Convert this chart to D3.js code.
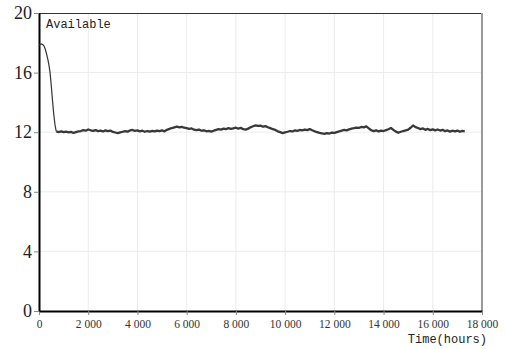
<!DOCTYPE html>
<html>
<head>
<meta charset="utf-8">
<script src="https://cdn.jsdelivr.net/npm/d3@7"></script>
<style>
  html, body { margin: 0; padding: 0; background: #fff; }
  svg { display: block; }
</style>
</head>
<body>
<figure id="chart" style="margin:0"></figure>
<script>
// start-up: stock falls from 18 to about 12
const rampHours = [0, 50, 100, 150, 200, 250, 300, 350, 400, 450, 500, 550, 600, 650, 700]
const rampValues = [17.85, 17.9, 17.92, 17.88, 17.8, 17.6, 17.3, 16.95, 16.55, 16.0, 15.1, 14.1, 13.2, 12.5, 12.05]

// steady state, sampled every 100 h from 700 h
const plateauStart = 700
const plateauStep = 100
const plateauValues = [
  12.05, 12.01, 12.06, 12.00, 12.04, 11.99, 12.02, 11.95, 12.00, 12.05,
  12.08, 12.14, 12.10, 12.18, 12.13, 12.09, 12.14, 12.07, 12.10, 12.05,
  12.12, 12.08, 12.11, 12.02, 11.98, 11.94, 11.99, 12.03, 12.07, 12.04,
  12.12, 12.15, 12.09, 12.12, 12.06, 12.10, 12.03, 12.08, 12.04, 12.09,
  12.05, 12.11, 12.07, 12.12, 12.06, 12.16, 12.22, 12.28, 12.33, 12.38,
  12.32, 12.36, 12.30, 12.27, 12.22, 12.25, 12.17, 12.14, 12.18, 12.10,
  12.13, 12.06, 12.09, 12.04, 12.10, 12.15, 12.20, 12.17, 12.24, 12.21,
  12.27, 12.22, 12.26, 12.30, 12.24, 12.29, 12.20, 12.17, 12.24, 12.33,
  12.40, 12.46, 12.42, 12.44, 12.37, 12.41, 12.33, 12.27, 12.20, 12.15,
  12.06, 12.00, 11.94, 11.99, 12.03, 12.08, 12.05, 12.12, 12.09, 12.15,
  12.12, 12.18, 12.14, 12.21, 12.13, 12.06, 12.01, 11.96, 11.92, 11.89,
  11.94, 11.91, 11.97, 11.95, 12.01, 12.06, 12.10, 12.15, 12.12, 12.19,
  12.24, 12.27, 12.31, 12.29, 12.35, 12.32, 12.39, 12.26, 12.13, 12.07,
  12.12, 12.06, 12.11, 12.08, 12.14, 12.20, 12.28, 12.16, 12.04, 11.96,
  12.03, 12.08, 12.12, 12.17, 12.30, 12.45, 12.34, 12.28, 12.21, 12.25,
  12.16, 12.22, 12.14, 12.19, 12.12, 12.18, 12.11, 12.16, 12.07, 12.12,
  12.04, 12.10, 12.05, 12.11, 12.03, 12.09, 12.06
]

const xTicks = [0, 2000, 4000, 6000, 8000, 10000, 12000, 14000, 16000, 18000]
const yTicks = [0, 4, 8, 12, 16, 20]
const seriesName = "Available"
const xTitle = "Time(hours)"

const W = 505, H = 349
const margin = {top: 13, right: 23, bottom: 38, left: 39}
const width = W - margin.left - margin.right
const height = H - margin.top - margin.bottom

const ramp = rampHours.map((h, i) => [h, rampValues[i]])
const plateau = plateauValues.map((v, i) => [plateauStart + i * plateauStep, v])

const x = d3.scaleLinear().domain([0, 18000]).range([0, width])
const y = d3.scaleLinear().domain([0, 20]).range([height, 0])

const svg = d3.select("figure#chart").append("svg")
  .attr("width", W).attr("height", H)

const g = svg.append("g")
  .attr("transform", `translate(${margin.left},${margin.top})`)

// grid
g.append("g").selectAll("line").data(xTicks.slice(1, -1)).join("line")
  .attr("x1", d => x(d)).attr("x2", d => x(d))
  .attr("y1", 0).attr("y2", height)
  .attr("stroke", "#ececec").attr("stroke-width", 1)
g.append("g").selectAll("line").data(yTicks.slice(1, -1)).join("line")
  .attr("x1", 0).attr("x2", width)
  .attr("y1", d => y(d)).attr("y2", d => y(d))
  .attr("stroke", "#ececec").attr("stroke-width", 1)

// frame top / right
g.append("line").attr("x1", 0).attr("x2", width).attr("y1", 0.5).attr("y2", 0.5)
  .attr("stroke", "#333").attr("stroke-width", 1)
g.append("line").attr("x1", width).attr("x2", width).attr("y1", 0).attr("y2", height)
  .attr("stroke", "#999").attr("stroke-width", 2)

const fmt = d => d === 0 ? "0" : d3.format(",")(d).replace(",", " ")

const xAxis = g.append("g")
  .attr("transform", `translate(0,${height})`)
  .call(d3.axisBottom(x).tickValues(xTicks).tickFormat(fmt).tickSize(4).tickSizeOuter(0))
xAxis.select(".domain").attr("stroke", "#000").attr("stroke-width", 2)
xAxis.selectAll(".tick line").attr("stroke", "#888")
xAxis.selectAll("text")
  .attr("font-family", "'Liberation Serif', 'Times New Roman', serif")
  .attr("font-size", "11.5px").attr("fill", "#333").attr("dy", "0.9em")

const yAxis = g.append("g")
  .call(d3.axisLeft(y).tickValues(yTicks).tickSize(5).tickSizeOuter(0))
yAxis.select(".domain").attr("stroke", "#000").attr("stroke-width", 2)
yAxis.selectAll(".tick line").attr("stroke", "#888")
yAxis.selectAll("text")
  .attr("font-family", "'Liberation Serif', 'Times New Roman', serif")
  .attr("font-size", "18px").attr("fill", "#222").attr("x", -7)

// series
const line = d3.line().x(d => x(d[0])).y(d => y(d[1]))
g.append("path")
  .datum(ramp)
  .attr("fill", "none")
  .attr("stroke", "#333")
  .attr("stroke-width", 1.2)
  .attr("d", line)
g.append("path")
  .datum(plateau)
  .attr("fill", "none")
  .attr("stroke", "#383838")
  .attr("stroke-width", 2.3)
  .attr("stroke-linejoin", "round")
  .attr("d", line)

g.append("text")
  .attr("x", 7).attr("y", 15)
  .attr("font-family", "'Liberation Mono', 'DejaVu Sans Mono', monospace")
  .attr("font-size", "12px").attr("fill", "#222")
  .text(seriesName)

svg.append("text")
  .attr("x", 487).attr("y", 343)
  .attr("text-anchor", "end")
  .attr("font-family", "'Liberation Mono', 'DejaVu Sans Mono', monospace")
  .attr("font-size", "12px").attr("fill", "#222")
  .text(xTitle)
</script>
</body>
</html>
